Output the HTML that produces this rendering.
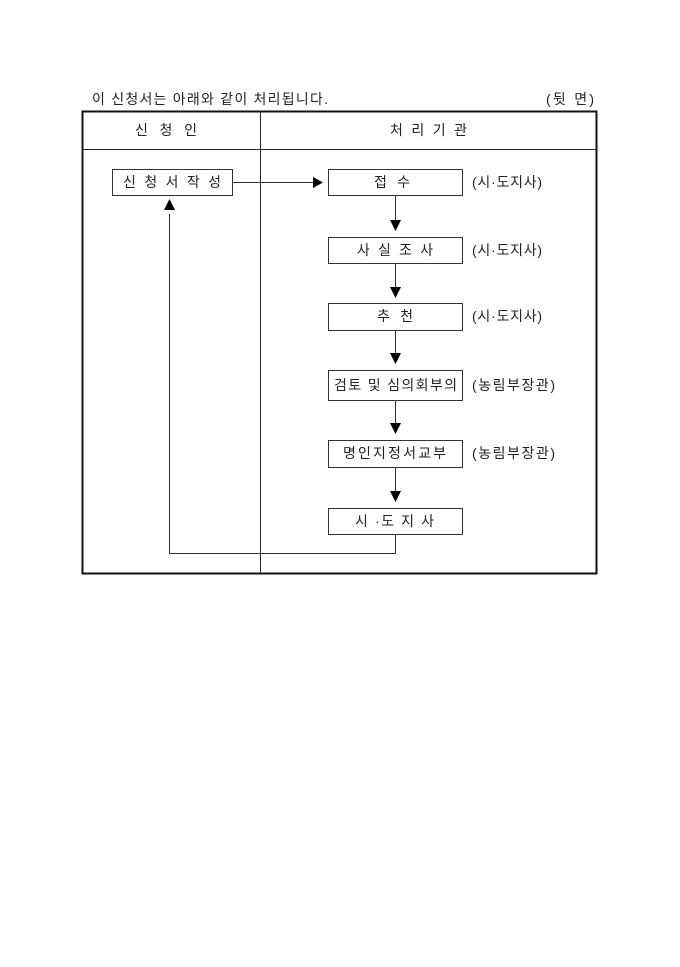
<!DOCTYPE html>
<html><head><meta charset="utf-8"><style>
html,body{margin:0;padding:0;background:#fff;}
svg text{font-family:"Liberation Sans","Noto Sans CJK KR","NanumGothic",sans-serif;font-size:14px;fill:#222;}
</style></head><body>
<svg width="680" height="962" xmlns="http://www.w3.org/2000/svg">
<text x="92" y="104" textLength="236" lengthAdjust="spacing">이 신청서는 아래와 같이 처리됩니다.</text>
<text x="546" y="104" textLength="48" lengthAdjust="spacing">(뒷 면)</text>
<rect x="82.5" y="111.5" width="514" height="462" fill="none" stroke="#111" stroke-width="2"/>
<line x1="82" y1="149.5" x2="597" y2="149.5" stroke="#222" stroke-width="1"/>
<line x1="260.5" y1="111" x2="260.5" y2="574" stroke="#222" stroke-width="1"/>
<text x="135" y="135" textLength="62" lengthAdjust="spacing">신 청 인</text>
<text x="390" y="135" textLength="77" lengthAdjust="spacing">처 리 기 관</text>
<g fill="none" stroke="#333" stroke-width="1">
<rect x="112.5" y="169.5" width="120" height="26"/>
<rect x="328.5" y="169.5" width="134" height="26"/>
<rect x="328.5" y="237.5" width="134" height="26"/>
<rect x="328.5" y="303.5" width="134" height="27"/>
<rect x="328.5" y="370.5" width="134" height="30"/>
<rect x="328.5" y="440.5" width="134" height="27"/>
<rect x="328.5" y="508.5" width="134" height="26"/>
<line x1="233" y1="182.5" x2="313" y2="182.5"/>
<line x1="395.5" y1="196" x2="395.5" y2="220"/>
<line x1="395.5" y1="264" x2="395.5" y2="287"/>
<line x1="395.5" y1="331" x2="395.5" y2="353"/>
<line x1="395.5" y1="401" x2="395.5" y2="423"/>
<line x1="395.5" y1="468" x2="395.5" y2="491"/>
<polyline points="395.5,535 395.5,553.5 169.5,553.5 169.5,214"/>
</g>
<g fill="#000">
<polygon points="313,177 323,182.5 313,188"/>
<polygon points="164,210 175,210 169.5,199"/>
<polygon points="390,220 401,220 395.5,231"/>
<polygon points="390,287 401,287 395.5,298"/>
<polygon points="390,353 401,353 395.5,364"/>
<polygon points="390,423 401,423 395.5,434"/>
<polygon points="390,491 401,491 395.5,502"/>
</g>
<text x="123" y="187" textLength="98" lengthAdjust="spacing">신 청 서 작 성</text>
<text x="374" y="187" textLength="36" lengthAdjust="spacing">접 수</text>
<text x="357" y="255" textLength="76" lengthAdjust="spacing">사 실 조 사</text>
<text x="377" y="321" textLength="36" lengthAdjust="spacing">추 천</text>
<text x="334" y="390" textLength="123" lengthAdjust="spacing">검토 및 심의회부의</text>
<text x="343" y="458" textLength="103" lengthAdjust="spacing">명인지정서교부</text>
<text x="355" y="526" textLength="79" lengthAdjust="spacing">시 ·도 지 사</text>
<text x="472" y="187" textLength="70" lengthAdjust="spacing">(시·도지사)</text>
<text x="472" y="255" textLength="70" lengthAdjust="spacing">(시·도지사)</text>
<text x="472" y="321" textLength="70" lengthAdjust="spacing">(시·도지사)</text>
<text x="472" y="390" textLength="83" lengthAdjust="spacing">(농림부장관)</text>
<text x="472" y="458" textLength="83" lengthAdjust="spacing">(농림부장관)</text>
</svg>
</body></html>
